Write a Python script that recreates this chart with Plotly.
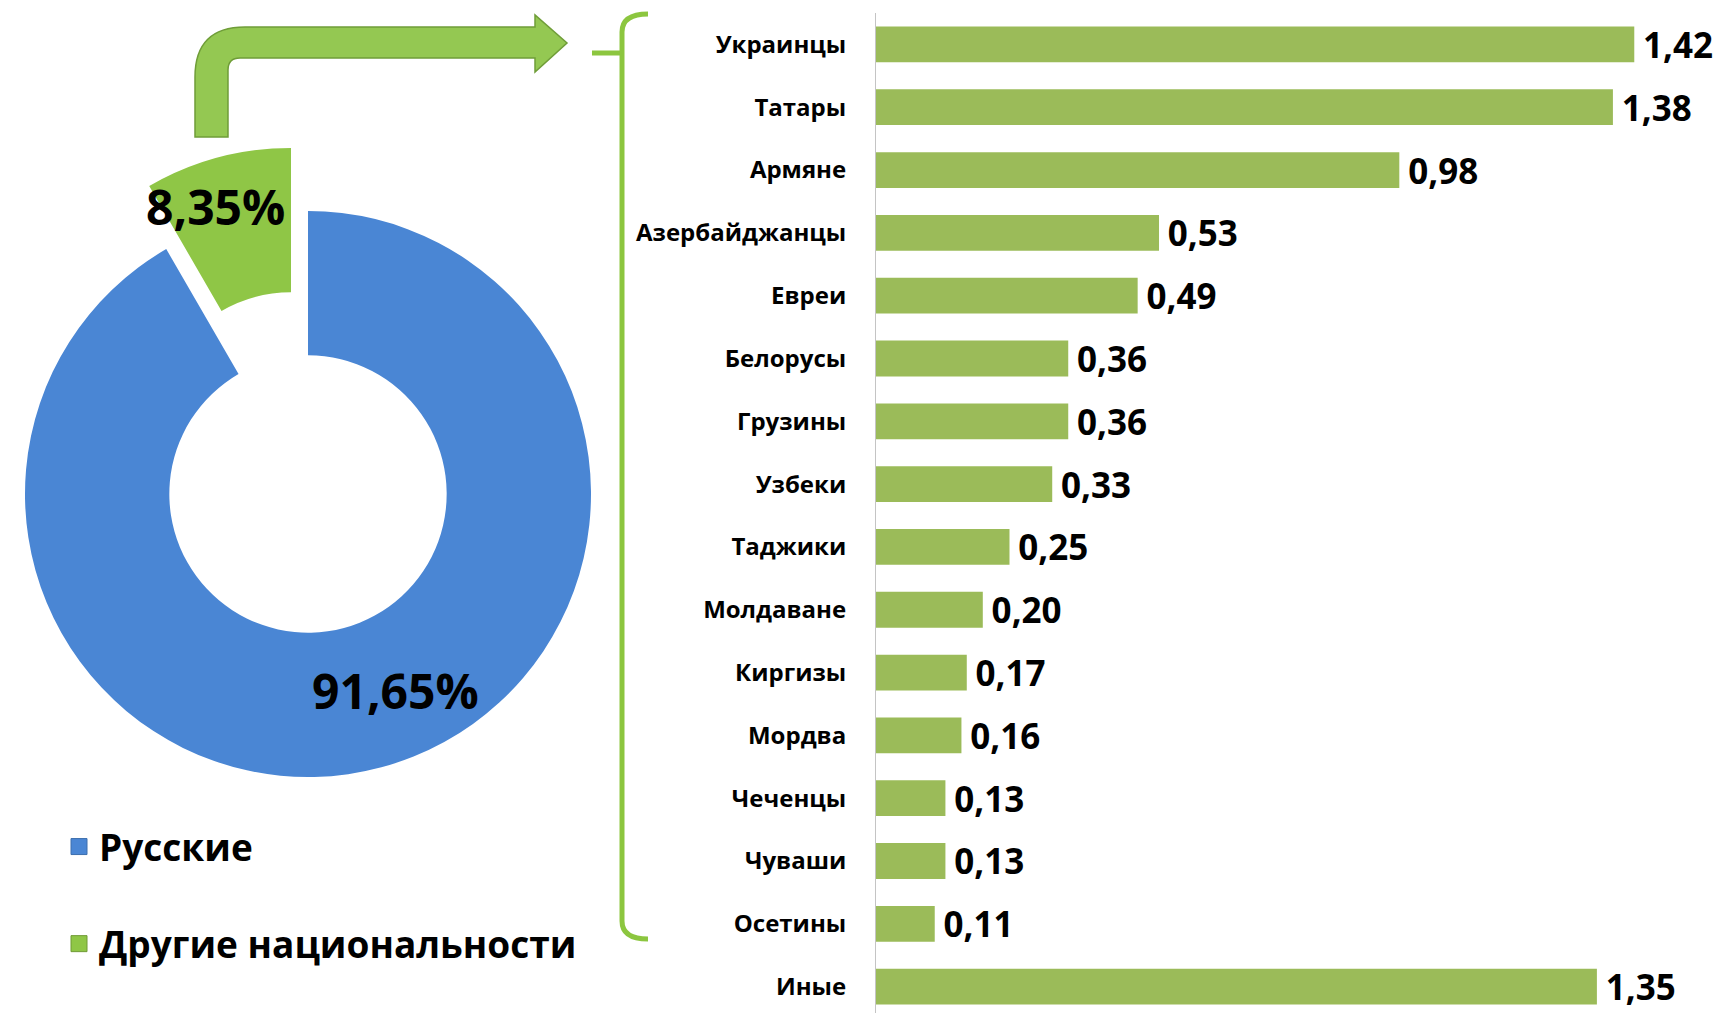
import plotly.graph_objects as go

W, H = 1722, 1013
OFF = 8                     # page body margin offset in the browser
FW, FH = W - OFF, H - OFF   # figure size so it fills the window

# ---- data ----
pie_labels = ["Русские", "Другие национальности"]
pie_values = [91.65, 8.35]
pie_colors = ["#4a86d4", "#8fc646"]

categories = ["Украинцы", "Татары", "Армяне", "Азербайджанцы", "Евреи", "Белорусы",
              "Грузины", "Узбеки", "Таджики", "Молдаване", "Киргизы", "Мордва",
              "Чеченцы", "Чуваши", "Осетины", "Иные"]
values = [1.42, 1.38, 0.98, 0.53, 0.49, 0.36, 0.36, 0.33, 0.25, 0.20, 0.17, 0.16,
          0.13, 0.13, 0.11, 1.35]

BAR_COLOR = "#9bbb59"
FONT = "Open Sans"
CLEAR = "rgba(0,0,0,0)"


def fx(x):
    """window pixel x -> paper fraction"""
    return (x - OFF) / FW


def fy(y):
    """window pixel y (from top) -> paper fraction"""
    return 1 - (y - OFF) / FH


def make_path(pts, close=False):
    s = ""
    for p in pts:
        cmd, coords = p[0], p[1:]
        parts = [f"{fx(coords[i]):.5f},{fy(coords[i + 1]):.5f}"
                 for i in range(0, len(coords), 2)]
        s += cmd + " " + " ".join(parts) + " "
    return s + ("Z" if close else "")


def square_domain(cx, cy, r):
    return dict(x=[fx(cx - r), fx(cx + r)], y=[fy(cy + r), fy(cy - r)])


R = 283
fig = go.Figure()

# donut: main ring (the small slice is drawn exploded by a second, shifted copy)
fig.add_trace(go.Pie(
    labels=pie_labels, values=pie_values, hole=0.49, sort=False,
    direction="clockwise", rotation=0,
    marker=dict(colors=[pie_colors[0], CLEAR], line=dict(width=0)),
    textinfo="none", hoverinfo="label+percent",
    domain=square_domain(308, 494, R), showlegend=False,
))
fig.add_trace(go.Pie(
    labels=pie_labels, values=pie_values, hole=0.49, sort=False,
    direction="clockwise", rotation=0,
    marker=dict(colors=[CLEAR, pie_colors[1]], line=dict(width=0)),
    textinfo="none", hoverinfo="label+percent",
    domain=square_domain(291, 431, R), showlegend=False,
))

# bars
fig.add_trace(go.Bar(
    y=categories, x=values, orientation="h",
    marker=dict(color=BAR_COLOR, line=dict(width=0)),
    texttemplate="\u2009%{x:.2f}", textposition="outside",
    textfont=dict(family=FONT, size=35, color="black", weight="bold"),
    constraintext="none", cliponaxis=False, showlegend=False,
))

# legend entries
for lab, col, grp, lc in zip(pie_labels, pie_colors, ["a", "b"], ["#3d6fae", "#6f9a35"]):
    fig.add_trace(go.Scatter(
        x=[None], y=[None], mode="markers", name=lab, legendgroup=grp,
        marker=dict(symbol="square", size=16, color=col, line=dict(color=lc, width=1)),
    ))

# arrow and bracket (decorations)
arrow_path = make_path([
    ("M", 195, 137), ("L", 195, 77), ("Q", 195, 27, 245, 27), ("L", 535, 27),
    ("L", 535, 15), ("L", 567, 43), ("L", 535, 72), ("L", 535, 58),
    ("L", 240, 58), ("Q", 228, 58, 228, 70), ("L", 228, 137),
], close=True)

bracket_path = make_path([
    ("M", 648, 14), ("Q", 622, 14, 622, 32), ("L", 622, 921),
    ("Q", 622, 939, 648, 939), ("M", 622, 53), ("L", 592, 53),
])

pct_texts = [f"{v:.2f}%".replace(".", ",") for v in pie_values]
pct_font = dict(family=FONT, size=48, color="black", weight="bold")

fig.update_layout(
    width=FW, height=FH,
    margin=dict(l=0, r=0, t=0, b=0),
    paper_bgcolor="white", plot_bgcolor="white",
    separators=", ",
    font=dict(family=FONT, color="black"),
    bargap=0.43,
    xaxis=dict(domain=[fx(876), 1.0], range=[0, (W - 876) / 534], visible=False,
               showgrid=False, zeroline=False),
    yaxis=dict(domain=[0, fy(13)], type="category", categoryorder="array",
               categoryarray=categories, range=[15.42, -0.5],
               showline=True, linecolor="#c4c4c4", linewidth=1,
               ticks="outside", ticklen=24, tickcolor=CLEAR,
               showgrid=False, zeroline=False,
               tickfont=dict(family=FONT, size=24, color="black", weight="bold")),
    legend=dict(x=fx(59), y=fy(816), xanchor="left", yanchor="top",
                bgcolor=CLEAR, tracegroupgap=46,
                font=dict(family=FONT, size=37, color="black", weight="bold")),
    shapes=[
        dict(type="path", xref="paper", yref="paper", path=arrow_path,
             fillcolor="#94c852", line=dict(color="#6f9d38", width=1.5), layer="above"),
        dict(type="path", xref="paper", yref="paper", path=bracket_path,
             line=dict(color="#8cc63f", width=5)),
    ],
    annotations=[
        dict(x=fx(215), y=fy(206), xref="paper", yref="paper", text=pct_texts[1],
             xanchor="center", yanchor="middle", showarrow=False, font=pct_font),
        dict(x=fx(395), y=fy(690), xref="paper", yref="paper", text=pct_texts[0],
             xanchor="center", yanchor="middle", showarrow=False, font=pct_font),
    ],
)

fig.write_html("out.html")
